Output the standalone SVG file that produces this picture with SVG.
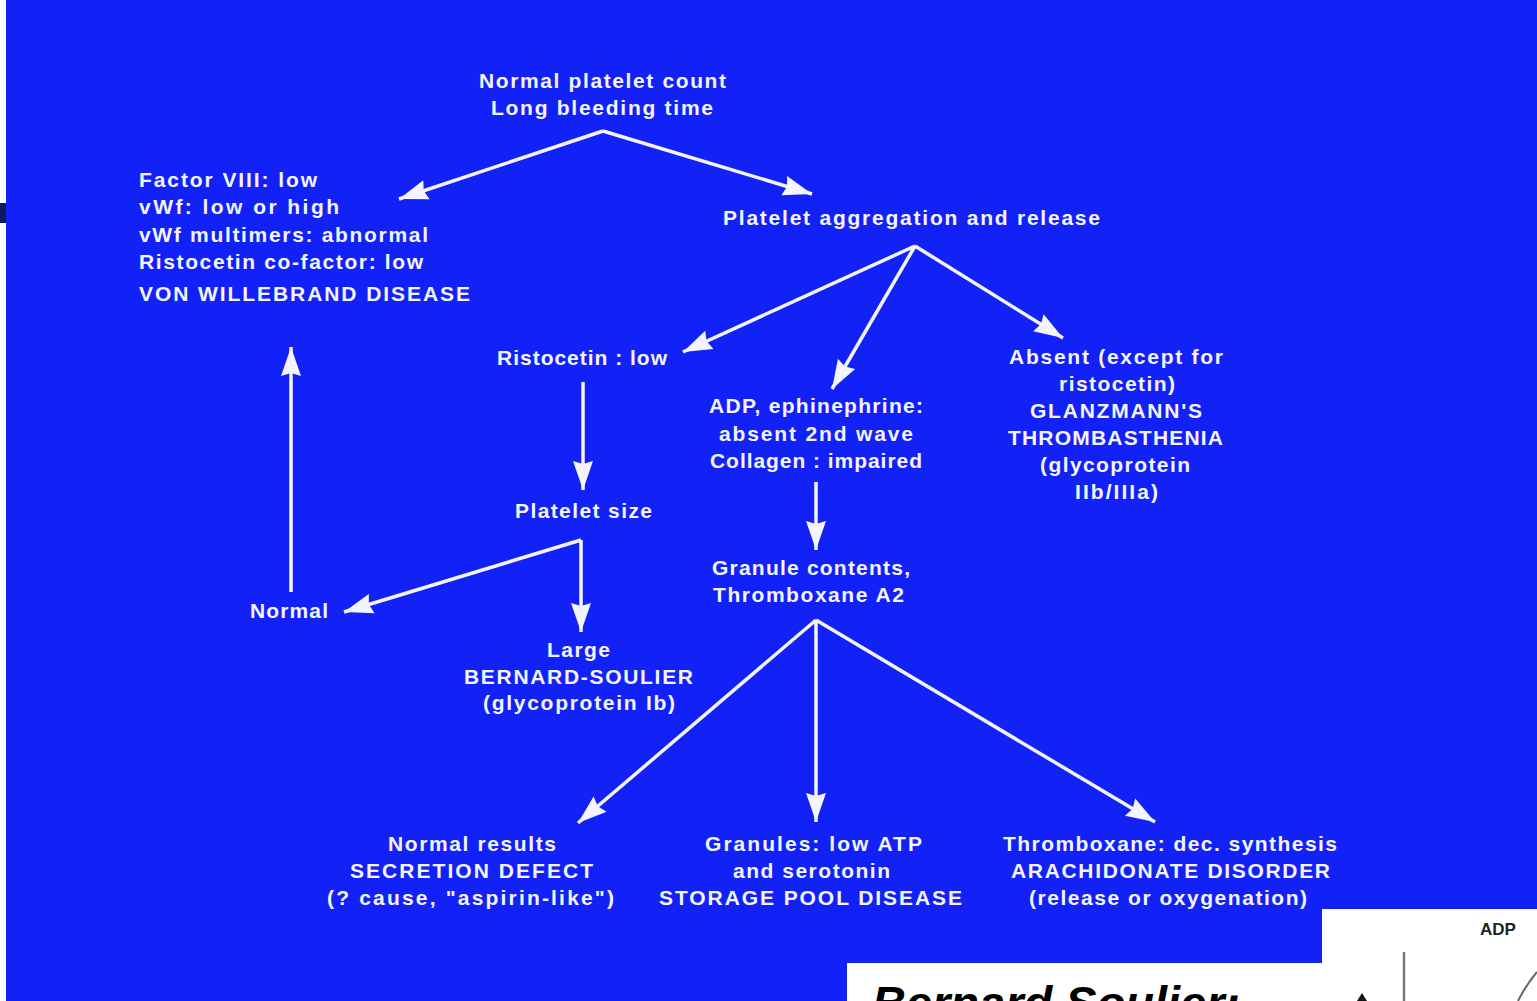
<svg xmlns="http://www.w3.org/2000/svg" width="1537" height="1001" viewBox="0 0 1537 1001">
<defs>
<style>
.t{font-family:"Liberation Sans",Arial,sans-serif;font-weight:bold;font-size:21px;fill:#f4f4ff}
.c{stroke:#f4f4ff;stroke-width:3.5;fill:none;marker-end:url(#ah)}
</style>
<marker id="ah" markerUnits="userSpaceOnUse" markerWidth="32" markerHeight="22" refX="29" refY="11" orient="auto">
<path d="M0,1 L29,11 L0,21 L3,11 Z" fill="#f4f4ff"/>
</marker>
</defs>
<rect x="0" y="0" width="1537" height="1001" fill="#1222f6"/>
<rect x="0" y="0" width="6" height="1001" fill="#ffffff"/>
<rect x="0" y="203" width="6" height="20" fill="#0a1a5a"/>

<g id="connectors">
<line class="c" x1="603" y1="131" x2="399" y2="199"/>
<line class="c" x1="603" y1="131" x2="812" y2="194"/>
<line class="c" x1="915" y1="246" x2="683" y2="352"/>
<line class="c" x1="915" y1="246" x2="832" y2="389"/>
<line class="c" x1="915" y1="246" x2="1063" y2="338"/>
<line class="c" x1="583" y1="382" x2="583" y2="490"/>
<line class="c" x1="816" y1="482" x2="816" y2="550"/>
<line class="c" x1="581" y1="540" x2="344" y2="612"/>
<line class="c" x1="581" y1="540" x2="581" y2="632"/>
<line class="c" x1="291" y1="592" x2="291" y2="347"/>
<line class="c" x1="816" y1="620" x2="578" y2="823"/>
<line class="c" x1="816" y1="620" x2="816" y2="822"/>
<line class="c" x1="816" y1="620" x2="1155" y2="822"/>
</g>

<g id="n-start">
<text class="t" x="479" y="88" textLength="247" lengthAdjust="spacing">Normal platelet count</text>
<text class="t" x="491" y="115" textLength="222" lengthAdjust="spacing">Long bleeding time</text>
</g>
<g id="n-vwd">
<text class="t" x="139" y="187" textLength="178" lengthAdjust="spacing">Factor VIII: low</text>
<text class="t" x="139" y="214" textLength="200" lengthAdjust="spacing">vWf: low or high</text>
<text class="t" x="139" y="242" textLength="289" lengthAdjust="spacing">vWf multimers: abnormal</text>
<text class="t" x="139" y="269" textLength="284" lengthAdjust="spacing">Ristocetin co-factor: low</text>
<text class="t" x="139" y="301" textLength="331" lengthAdjust="spacing">VON WILLEBRAND DISEASE</text>
</g>
<g id="n-aggregation">
<text class="t" x="723" y="225" textLength="377" lengthAdjust="spacing">Platelet aggregation and release</text>
</g>
<g id="n-ristocetin">
<text class="t" x="497" y="365" textLength="170" lengthAdjust="spacing">Ristocetin : low</text>
</g>
<g id="n-adp">
<text class="t" x="709" y="413" textLength="214" lengthAdjust="spacing">ADP, ephinephrine:</text>
<text class="t" x="719" y="441" textLength="194" lengthAdjust="spacing">absent 2nd wave</text>
<text class="t" x="710" y="468" textLength="212" lengthAdjust="spacing">Collagen : impaired</text>
</g>
<g id="n-glanzmann">
<text class="t" x="1009" y="364" textLength="214" lengthAdjust="spacing">Absent (except for</text>
<text class="t" x="1059" y="391" textLength="116" lengthAdjust="spacing">ristocetin)</text>
<text class="t" x="1030" y="418" textLength="172" lengthAdjust="spacing">GLANZMANN'S</text>
<text class="t" x="1008" y="445" textLength="215" lengthAdjust="spacing">THROMBASTHENIA</text>
<text class="t" x="1040" y="472" textLength="150" lengthAdjust="spacing">(glycoprotein</text>
<text class="t" x="1075" y="499" textLength="83" lengthAdjust="spacing">IIb/IIIa)</text>
</g>
<g id="n-size">
<text class="t" x="515" y="518" textLength="137" lengthAdjust="spacing">Platelet size</text>
</g>
<g id="n-normal">
<text class="t" x="250" y="618" textLength="78" lengthAdjust="spacing">Normal</text>
</g>
<g id="n-bernard">
<text class="t" x="547" y="657" textLength="63" lengthAdjust="spacing">Large</text>
<text class="t" x="464" y="684" textLength="229" lengthAdjust="spacing">BERNARD-SOULIER</text>
<text class="t" x="483" y="710" textLength="192" lengthAdjust="spacing">(glycoprotein Ib)</text>
</g>
<g id="n-granule">
<text class="t" x="712" y="575" textLength="198" lengthAdjust="spacing">Granule contents,</text>
<text class="t" x="713" y="602" textLength="191" lengthAdjust="spacing">Thromboxane A2</text>
</g>
<g id="n-secretion">
<text class="t" x="388" y="851" textLength="168" lengthAdjust="spacing">Normal results</text>
<text class="t" x="350" y="878" textLength="243" lengthAdjust="spacing">SECRETION DEFECT</text>
<text class="t" x="327" y="905" textLength="287" lengthAdjust="spacing">(? cause, "aspirin-like")</text>
</g>
<g id="n-storage">
<text class="t" x="705" y="851" textLength="217" lengthAdjust="spacing">Granules: low ATP</text>
<text class="t" x="733" y="878" textLength="157" lengthAdjust="spacing">and serotonin</text>
<text class="t" x="659" y="905" textLength="303" lengthAdjust="spacing">STORAGE POOL DISEASE</text>
</g>
<g id="n-arachidonate">
<text class="t" x="1003" y="851" textLength="334" lengthAdjust="spacing">Thromboxane: dec. synthesis</text>
<text class="t" x="1011" y="878" textLength="319" lengthAdjust="spacing">ARACHIDONATE DISORDER</text>
<text class="t" x="1029" y="905" textLength="278" lengthAdjust="spacing">(release or oxygenation)</text>
</g>

<g id="inset">
<rect x="847" y="963" width="690" height="38" fill="#ffffff"/>
<rect x="1322" y="909" width="215" height="92" fill="#ffffff"/>
<text x="872" y="1019" font-family="'Liberation Sans',Arial,sans-serif" font-weight="bold" font-style="italic" font-size="47" fill="#000000">Bernard Soulier:</text>
<text x="1480" y="935" font-family="'Liberation Sans',Arial,sans-serif" font-weight="bold" font-size="17" fill="#222222">ADP</text>
<line x1="1404" y1="952" x2="1404" y2="1001" stroke="#7a7a7a" stroke-width="2.5"/>
<path d="M1362,993 L1357,1001 L1367,1001 Z" fill="#111111"/>
<path d="M1537,972 Q1526,985 1518,1001" stroke="#666666" stroke-width="2" fill="none"/>
</g>
</svg>
